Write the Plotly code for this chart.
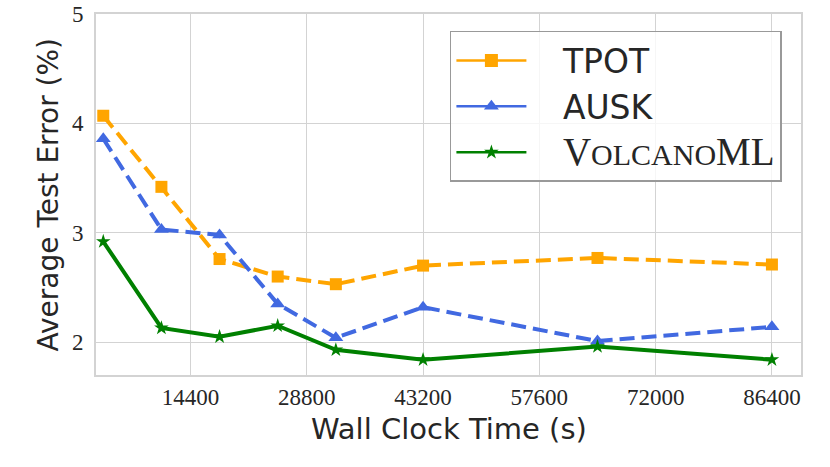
import plotly.graph_objects as go

wall_time = [3600, 10800, 18000, 25200, 32400, 43200, 64800, 86400]
tpot = [4.07, 3.42, 2.76, 2.60, 2.53, 2.70, 2.77, 2.71]
ausk = [3.86, 3.03, 2.98, 2.35, 2.04, 2.32, 2.01, 2.14]
volcano = [2.92, 2.13, 2.05, 2.15, 1.93, 1.84, 1.96, 1.84]
x_ticks = [14400, 28800, 43200, 57600, 72000, 86400]
y_ticks = [2, 3, 4, 5]

serif = "Liberation Serif, DejaVu Serif, serif"
sans = "DejaVu Sans, Open Sans, sans-serif"
NB = "&nbsp;&nbsp;&nbsp;"

series = [
    dict(name=NB + "TPOT", y=tpot, color="#FFA500", symbol="square", size=12, dash="15px,7px", msize_leg=13),
    dict(name=NB + "AUSK", y=ausk, color="#4169E1", symbol="triangle-up", size=13, dash="15px,7px", msize_leg=13),
    dict(name=NB + "<span style='font-family:Liberation Serif;font-size:39px'>V<span style='font-size:30px'>OLCANO</span>ML</span>",
         y=volcano, color="#008000", symbol="star", size=11, dash="solid", msize_leg=11),
]

fig = go.Figure()
for s in series:
    fig.add_trace(go.Scatter(
        x=wall_time, y=s["y"], mode="lines+markers", showlegend=False,
        line=dict(color=s["color"], width=4, dash=s["dash"]),
        marker=dict(symbol=s["symbol"], size=s["size"], color=s["color"])))
for s in series:
    fig.add_trace(go.Scatter(
        x=[None], y=[None], mode="lines+markers", name=s["name"],
        line=dict(color=s["color"], width=2.5),
        marker=dict(symbol=s["symbol"], size=s["msize_leg"], color=s["color"])))

grid = "#d3d3d3"
fig.update_layout(
    width=830, height=467,
    margin=dict(l=96, r=29, t=14, b=92),
    plot_bgcolor="white", paper_bgcolor="white",
    xaxis=dict(
        range=[2700, 90000], tickvals=x_ticks, ticktext=[str(v) for v in x_ticks],
        showgrid=True, gridcolor=grid, gridwidth=1.3,
        showline=True, linecolor=grid, linewidth=2, mirror=True,
        zeroline=False, ticks="",
        automargin=False, ticklabeloverflow="allow",
        tickfont=dict(family=serif, size=23, color="#262626"),
    ),
    yaxis=dict(
        range=[1.7, 5], tickvals=y_ticks, ticktext=[str(v) for v in y_ticks],
        showgrid=True, gridcolor=grid, gridwidth=1.3,
        showline=True, linecolor=grid, linewidth=2, mirror=True,
        zeroline=False, ticks="outside", ticklen=6, tickcolor="rgba(0,0,0,0)",
        automargin=False, ticklabeloverflow="allow",
        tickfont=dict(family=serif, size=23, color="#262626"),
    ),
    annotations=[
        dict(text="Wall Clock Time (s)", xref="paper", yref="paper", x=0.5, y=0,
             xanchor="center", yanchor="middle", yshift=-54, showarrow=False,
             font=dict(family=sans, size=29, color="#262626")),
        dict(text="Average Test Error (%)", xref="paper", yref="paper", x=0, y=0.5,
             xanchor="center", yanchor="middle", xshift=-48, textangle=-90, showarrow=False,
             font=dict(family=sans, size=28, color="#262626")),
    ],
    legend=dict(
        x=0.502, y=0.953, xanchor="left", yanchor="top",
        bgcolor="rgba(255,255,255,0.8)", bordercolor="#999999", borderwidth=1.5,
        font=dict(family=sans, size=33, color="#262626"),
        itemwidth=70, tracegroupgap=0,
    ),
    showlegend=True,
)
fig.write_html("out.html", config={"displayModeBar": False},
               post_script="document.body.style.margin='0';")
